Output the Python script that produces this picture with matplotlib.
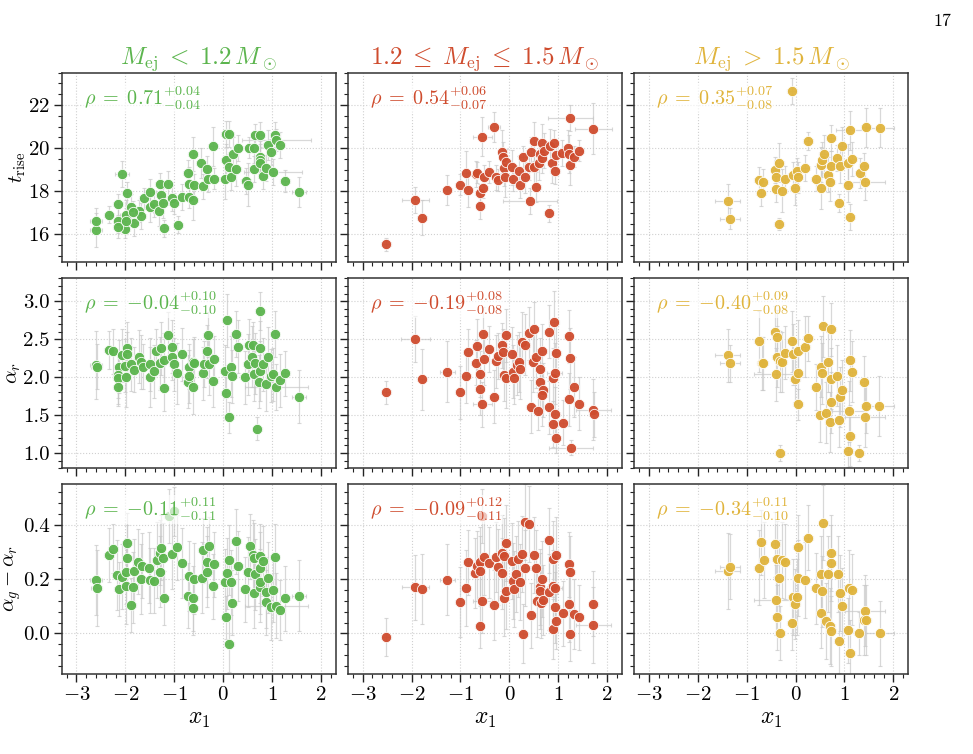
import numpy as np
import matplotlib
matplotlib.use("Agg")
import matplotlib.pyplot as plt
from matplotlib.ticker import MultipleLocator

plt.rcParams['font.family'] = 'serif'
plt.rcParams['font.serif'] = ['cmr10', 'DejaVu Serif']
plt.rcParams['mathtext.fontset'] = 'cm'
plt.rcParams['axes.formatter.use_mathtext'] = True

# colours of the three ejecta-mass bins
bin_colors = ['#5cb54e', '#cf4c2e', '#e0b43c']
bin_titles = [r'$M_{\rm ej}\;<\;1.2\,M_\odot$',
              r'$1.2\;\leq\;M_{\rm ej}\;\leq\;1.5\,M_\odot$',
              r'$M_{\rm ej}\;>\;1.5\,M_\odot$']
row_labels = [r'$t_{\rm rise}$', r'$\alpha_r$', r'$\alpha_g - \alpha_r$']

rho_text = [
    [r'$\rho\;=\;0.71^{+0.04}_{-0.04}$', r'$\rho\;=\;0.54^{+0.06}_{-0.07}$', r'$\rho\;=\;0.35^{+0.07}_{-0.08}$'],
    [r'$\rho\;=\;{-}0.04^{+0.10}_{-0.10}$', r'$\rho\;=\;{-}0.19^{+0.08}_{-0.08}$', r'$\rho\;=\;{-}0.40^{+0.09}_{-0.08}$'],
    [r'$\rho\;=\;{-}0.11^{+0.11}_{-0.11}$', r'$\rho\;=\;{-}0.09^{+0.12}_{-0.11}$', r'$\rho\;=\;{-}0.34^{+0.11}_{-0.10}$'],
]

# (x1, value, x1 error, value error)
trise_low = [
    (-2.60, 16.20, .12, .8), (-2.60, 16.63, .12, .6), (-2.33, 16.91, .10, .4), (-2.15, 16.64, .10, .6),
    (-2.15, 17.39, .10, .5), (-2.07, 18.80, .15, .6), (-1.96, 17.91, .10, .5), (-2.01, 16.25, .10, .4),
    (-1.98, 16.89, .12, .7), (-1.89, 17.27, .10, .6), (-1.83, 16.53, .10, .6), (-1.73, 17.09, .10, .5),
    (-1.67, 16.86, .10, .6), (-1.62, 17.67, .10, .5), (-1.50, 17.28, .10, .7), (-1.49, 17.95, .12, .6),
    (-1.42, 17.42, .10, .6), (-1.30, 18.33, .10, .5), (-1.28, 17.84, .10, .6), (-1.32, 17.08, .12, .7),
    (-1.23, 17.45, .10, .7), (-1.21, 16.28, .10, .4), (-1.13, 18.33, .10, .6), (-1.05, 17.70, .10, .6),
    (-1.00, 17.44, .10, .5), (-0.93, 16.44, .10, .4), (-0.85, 17.72, .10, .6), (-0.72, 18.84, .10, .6),
    (-0.70, 17.72, .10, .5), (-0.69, 18.33, .10, .8), (-0.61, 17.58, .10, .9), (-0.61, 19.73, .10, .8),
    (-0.59, 18.30, .10, .5), (-0.46, 19.30, .10, .7), (-0.41, 18.22, .10, .6), (-0.34, 19.03, .10, .6),
    (-0.31, 18.55, .10, .6), (-0.20, 20.08, .10, .9), (-0.19, 18.59, .10, .5), (0.05, 20.66, .10, .6),
    (0.12, 20.66, .10, .6), (0.04, 18.56, .10, .9), (0.05, 19.47, .10, .7), (0.12, 19.14, .10, .6),
    (0.15, 18.67, .10, .6), (0.20, 19.73, .10, .8), (0.27, 19.05, .10, .8), (0.31, 20.00, .10, .6),
    (0.46, 18.48, .10, .6), (0.51, 18.30, .10, 1.0), (0.52, 20.02, .15, .5), (0.63, 20.00, .10, .7),
    (0.66, 20.63, .10, .5), (0.76, 20.63, .10, .6), (0.63, 19.03, .10, .6), (0.75, 19.61, .10, .7),
    (0.75, 19.47, .10, .7), (0.76, 19.30, .10, .7), (0.81, 18.72, .10, .6), (0.88, 19.09, .10, .6),
    (0.92, 20.16, .10, .7), (0.98, 19.84, .10, .6), (1.02, 18.89, .60, .6), (1.05, 20.63, .10, .6),
    (1.09, 20.39, .70, .5), (1.16, 20.13, .10, .6), (1.27, 18.48, .10, .5), (1.55, 17.95, .15, .7),
    (-2.15, 16.35, .10, .5), (-1.99, 16.62, .10, .6), (-1.84, 17.05, .10, .5),
]
trise_mid = [
    (-2.52, 15.55, .10, .3), (-1.92, 17.58, .28, .6), (-1.79, 16.78, .10, .8), (-1.27, 18.05, .10, .7),
    (-1.01, 18.31, .10, .5), (-0.89, 18.86, .10, 1.0), (-0.85, 18.08, .10, .8), (-0.69, 18.80, .10, .6),
    (-0.67, 18.86, .10, .5), (-0.61, 17.94, .10, .4), (-0.59, 17.31, .10, .6), (-0.55, 20.53, .20, .9),
    (-0.53, 18.17, .10, .5), (-0.51, 18.64, .10, .6), (-0.42, 18.89, .10, .5), (-0.31, 20.98, .12, .7),
    (-0.28, 18.64, .10, .6), (-0.24, 18.52, .10, .5), (-0.14, 19.84, .10, 1.0), (-0.12, 19.58, .10, .7),
    (-0.10, 19.06, .10, .8), (-0.08, 18.64, .10, .9), (-0.06, 19.36, .10, .6), (0.05, 19.11, .10, .8),
    (0.08, 18.59, .10, .6), (0.20, 18.92, .10, .7), (0.22, 18.28, .10, .6), (0.28, 19.61, .10, .5),
    (0.31, 18.64, .10, .7), (0.40, 19.11, .10, .6), (0.42, 17.53, .55, .6), (0.44, 19.81, .10, .7),
    (0.50, 20.31, .10, .9), (0.50, 19.11, .10, .8), (0.54, 18.20, .10, .7), (0.61, 19.33, .10, .8),
    (0.63, 19.73, .10, .6), (0.66, 20.23, .10, .9), (0.67, 19.55, .10, .7), (0.70, 19.89, .10, .8),
    (0.81, 16.97, .10, .4), (0.83, 20.08, .10, .8), (0.88, 19.30, .10, .9), (0.92, 20.25, .10, .6),
    (0.93, 18.95, .10, .6), (0.95, 19.66, .10, .7), (1.08, 19.77, .10, .6), (1.20, 20.02, .10, .8),
    (1.23, 19.73, .10, .9), (1.25, 21.38, .46, .6), (1.25, 19.20, .10, .9), (1.32, 19.61, .10, .5),
    (1.42, 19.89, .10, .5), (1.72, 20.91, .37, 1.2),
]
trise_high = [
    (-1.39, 17.55, .25, .8), (-1.34, 16.73, .20, .5), (-0.74, 18.52, .10, .6), (-0.67, 18.44, .10, .6),
    (-0.70, 17.91, .10, .6), (-0.41, 18.98, .10, .6), (-0.39, 18.67, .10, .8), (-0.39, 18.11, .10, .6),
    (-0.33, 19.33, .10, .9), (-0.33, 16.48, .10, .3), (-0.27, 18.02, .10, 1.0), (-0.21, 18.55, .10, .6),
    (-0.07, 22.66, .10, .6), (-0.05, 18.77, .10, .6), (-0.01, 18.17, .10, .8), (0.04, 18.95, .10, .6),
    (0.05, 18.64, .10, .7), (0.19, 19.06, .10, .6), (0.25, 20.33, .10, .4), (0.41, 18.59, .10, .6),
    (0.52, 19.23, .10, .8), (0.55, 19.47, .10, .8), (0.53, 18.17, .10, 1.0), (0.58, 19.73, .10, .9),
    (0.67, 18.77, .10, .8), (0.70, 18.44, .10, .9), (0.73, 19.16, .10, .7), (0.73, 20.47, .10, .6),
    (0.85, 19.55, .10, .6), (0.88, 17.45, .10, .4), (0.91, 19.19, .10, .8), (0.96, 20.09, .10, .9),
    (1.08, 19.30, .10, .9), (1.08, 18.28, .10, .8), (1.12, 20.83, .30, .9), (1.12, 16.81, .10, .6),
    (1.15, 19.50, .10, .8), (1.31, 18.83, .10, .7), (1.39, 19.17, .10, .6), (1.42, 18.41, .40, .8),
    (1.44, 20.97, .10, .9), (1.72, 20.94, .30, .9),
]

alphar_low = [
    (-2.60, 2.16, .12, .45), (-2.59, 2.14, .12, .30), (-2.33, 2.36, .10, .25), (-2.25, 2.34, .10, .30),
    (-2.14, 2.14, .10, .35), (-2.15, 2.03, .10, .30), (-2.15, 1.99, .10, .35), (-2.15, 1.87, .10, .25),
    (-2.07, 2.29, .10, .35), (-2.00, 2.15, .10, .35), (-1.96, 2.38, .10, .35), (-1.96, 2.30, .10, .30),
    (-1.98, 2.00, .10, .40), (-1.89, 2.17, .10, .35), (-1.83, 2.10, .10, .30), (-1.73, 2.27, .10, .35),
    (-1.67, 2.20, .10, .35), (-1.64, 2.14, .10, .30), (-1.50, 2.17, .10, .35), (-1.49, 2.00, .10, .40),
    (-1.42, 2.08, .10, .35), (-1.38, 2.34, .10, .30), (-1.28, 2.38, .10, .35), (-1.30, 2.18, .10, .35),
    (-1.21, 2.23, .10, .35), (-1.21, 1.86, .10, .30), (-1.13, 2.56, .10, .30), (-1.05, 2.40, .10, .35),
    (-1.05, 2.26, .10, .30), (-1.00, 2.17, .10, .35), (-0.94, 2.05, .10, .40), (-0.85, 2.30, .10, .35),
    (-0.72, 1.94, .10, .35), (-0.70, 2.14, .10, .30), (-0.70, 2.01, .10, .35), (-0.61, 1.87, .10, .35),
    (-0.61, 2.20, .10, .30), (-0.59, 2.18, .10, .35), (-0.41, 2.05, .10, .35), (-0.40, 2.17, .10, .30),
    (-0.34, 2.34, .10, .35), (-0.31, 2.56, .10, .30), (-0.29, 2.17, .10, .40), (-0.20, 1.95, .10, .35),
    (-0.19, 2.24, .10, .30), (0.04, 2.08, .10, .35), (0.05, 1.79, .10, .35), (0.07, 2.75, .10, .35),
    (0.12, 1.47, .10, .20), (0.15, 2.14, .10, .40), (0.18, 2.01, .10, .35), (0.27, 2.57, .10, .30),
    (0.31, 2.40, .10, .35), (0.45, 2.00, .10, .35), (0.51, 2.17, .10, .40), (0.52, 2.42, .10, .35),
    (0.61, 2.43, .10, .30), (0.59, 2.27, .10, .40), (0.63, 2.04, .10, .35), (0.66, 2.18, .10, .40),
    (0.70, 1.32, .10, .15), (0.76, 2.87, .10, .25), (0.75, 2.39, .10, .35), (0.75, 2.08, .10, .40),
    (0.74, 1.94, .10, .35), (0.81, 2.17, .10, .35), (0.88, 1.91, .10, .35), (0.92, 2.26, .10, .40),
    (0.98, 2.02, .10, .35), (1.02, 2.04, .10, .35), (1.05, 2.57, .10, .30), (1.09, 1.87, .65, .30),
    (1.16, 1.96, .10, .35), (1.27, 2.05, .10, .30), (1.55, 1.74, .15, .35),
]
alphar_mid = [
    (-2.52, 1.80, .10, .15), (-1.92, 2.50, .30, .30), (-1.79, 1.97, .10, .40), (-1.27, 2.07, .15, .40),
    (-1.01, 1.80, .10, .35), (-0.89, 2.01, .10, .35), (-0.85, 2.33, .10, .30), (-0.69, 2.19, .10, .30),
    (-0.67, 2.41, .10, .35), (-0.61, 1.85, .10, .35), (-0.59, 2.04, .10, .30), (-0.55, 1.64, .20, .30),
    (-0.53, 2.57, .10, .35), (-0.52, 2.24, .10, .35), (-0.42, 2.37, .10, .30), (-0.31, 1.74, .10, .35),
    (-0.28, 2.21, .10, .35), (-0.24, 2.28, .10, .30), (-0.14, 2.42, .10, .30), (-0.12, 2.33, .10, .30),
    (-0.11, 2.03, .10, .35), (-0.07, 2.55, .10, .35), (-0.06, 1.99, .10, .40), (0.05, 2.31, .10, .35),
    (0.08, 2.07, .10, .35), (0.10, 1.99, .10, .35), (0.15, 2.16, .10, .40), (0.20, 2.20, .10, .40),
    (0.22, 2.11, .10, .40), (0.26, 2.46, .10, .40), (0.33, 2.43, .10, .40), (0.40, 2.58, .10, .35),
    (0.44, 1.61, .10, .35), (0.49, 2.20, .10, .40), (0.50, 2.64, .10, .35), (0.54, 2.26, .10, .40),
    (0.59, 1.55, .10, .25), (0.63, 2.11, .10, .40), (0.63, 1.93, .10, .40), (0.67, 2.35, .10, .35),
    (0.69, 1.83, .10, .35), (0.66, 1.76, .10, .40), (0.81, 2.60, .10, .35), (0.82, 1.60, .10, .35),
    (0.89, 1.38, .10, .30), (0.90, 1.99, .10, .40), (0.93, 2.05, .15, .40), (0.94, 1.52, .10, .35),
    (0.95, 1.20, .10, .20), (0.92, 2.73, .10, .40), (0.95, 2.32, .10, .35), (1.09, 1.40, .10, .30),
    (1.21, 2.54, .10, .35), (1.22, 1.71, .10, .35), (1.25, 2.25, .10, .40), (1.27, 1.07, .45, .10),
    (1.32, 1.87, .10, .40), (1.42, 1.65, .10, .35), (1.72, 1.57, .35, .40), (1.73, 1.51, .10, .30),
]
alphar_high = [
    (-1.39, 2.29, .25, .35), (-1.34, 2.18, .20, .25), (-0.74, 2.47, .10, .40), (-0.69, 2.18, .10, .35),
    (-0.67, 2.18, .10, .35), (-0.41, 2.59, .10, .35), (-0.38, 2.53, .10, .35), (-0.38, 2.27, .10, .40),
    (-0.39, 2.04, .45, .35), (-0.31, 2.21, .10, .40), (-0.27, 2.20, .10, .40), (-0.22, 2.32, .10, .35),
    (-0.07, 2.47, .10, .40), (-0.05, 2.30, .10, .40), (-0.01, 1.97, .10, .30), (0.05, 2.35, .10, .40),
    (0.05, 2.05, .10, .35), (0.05, 1.64, .10, .20), (0.20, 2.40, .10, .40), (0.25, 2.51, .10, .30),
    (0.41, 1.87, .10, .30), (0.51, 1.50, .10, .35), (0.52, 2.14, .10, .40), (0.55, 2.05, .10, .40),
    (0.57, 2.67, .10, .40), (0.63, 1.53, .10, .40), (0.67, 2.20, .10, .40), (0.70, 1.41, .10, .40),
    (0.72, 1.98, .10, .40), (0.73, 1.67, .10, .40), (0.73, 2.63, .10, .35), (0.85, 2.02, .10, .40),
    (0.88, 1.43, .10, .35), (0.90, 1.74, .10, .40), (0.96, 1.83, .10, .40), (1.09, 1.55, .35, .40),
    (1.08, 1.02, .10, .20), (1.11, 2.22, .10, .40), (1.12, 1.23, .10, .40), (1.15, 2.07, .10, .40),
    (1.30, 1.00, .10, .10), (1.39, 1.93, .10, .35), (1.42, 1.48, .40, .40), (1.44, 1.62, .10, .35),
    (-0.32, 1.00, .10, .10), (1.71, 1.62, .30, .40),
]

color_low = [
    (-2.60, 0.196, .12, .13), (-2.59, 0.166, .12, .14), (-2.33, 0.290, .10, .10), (-2.25, 0.312, .10, .09),
    (-2.17, 0.215, .10, .13), (-2.14, 0.163, .10, .10), (-2.07, 0.209, .10, .12), (-1.96, 0.334, .10, .11),
    (-1.96, 0.279, .10, .12), (-1.99, 0.176, .10, .14), (-1.98, 0.228, .10, .12), (-1.89, 0.106, .10, .10),
    (-1.85, 0.170, .10, .13), (-1.83, 0.230, .10, .12), (-1.74, 0.265, .10, .12), (-1.69, 0.200, .10, .13),
    (-1.66, 0.249, .10, .12), (-1.51, 0.243, .10, .13), (-1.49, 0.196, .10, .12), (-1.41, 0.194, .10, .12),
    (-1.35, 0.270, .10, .14), (-1.30, 0.298, .10, .12), (-1.28, 0.316, .10, .12), (-1.30, 0.228, .10, .13),
    (-1.23, 0.277, .10, .13), (-1.21, 0.129, .10, .10), (-1.04, 0.294, .10, .13), (-0.94, 0.318, .10, .12),
    (-0.85, 0.259, .10, .13), (-0.72, 0.139, .10, .12), (-0.70, 0.212, .10, .13), (-0.61, 0.129, .10, .12),
    (-0.61, 0.094, .10, .10), (-0.59, 0.202, .10, .13), (-0.43, 0.206, .10, .13), (-0.41, 0.307, .10, .12),
    (-0.34, 0.263, .10, .13), (-0.33, 0.228, .10, .13), (-0.29, 0.321, .10, .11), (-0.19, 0.255, .10, .12),
    (-0.20, 0.173, .10, .12), (0.04, 0.191, .10, .12), (0.05, 0.059, .10, .08), (0.07, 0.221, .10, .13),
    (0.12, 0.270, .10, .13), (0.12, -0.041, .10, .10), (0.15, 0.188, .10, .12), (0.18, 0.113, .10, .12),
    (0.27, 0.340, .10, .12), (0.31, 0.249, .10, .13), (0.45, 0.162, .10, .12), (0.51, 0.226, .10, .13),
    (0.54, 0.322, .10, .12), (0.61, 0.289, .10, .13), (0.63, 0.277, .10, .13), (0.64, 0.148, .10, .13),
    (0.66, 0.218, .10, .13), (0.75, 0.285, .10, .12), (0.76, 0.243, .10, .13), (0.75, 0.172, .10, .13),
    (0.76, 0.191, .10, .12), (0.81, 0.267, .10, .13), (0.87, 0.115, .10, .12), (0.88, 0.151, .10, .13),
    (0.92, 0.206, .10, .13), (0.97, 0.096, .10, .12), (1.02, 0.161, .10, .12), (1.05, 0.282, .10, .12),
    (1.09, 0.102, .65, .12), (1.16, 0.087, .10, .11), (1.27, 0.130, .10, .12), (1.55, 0.139, .15, .13),
    (-1.11, 0.432, .10, .10), (-1.01, 0.450, .10, .09),
]
color_mid = [
    (-2.52, -0.013, .10, .07), (-1.92, 0.170, .28, .12), (-1.79, 0.163, .10, .13), (-1.27, 0.198, .15, .13),
    (-1.01, 0.115, .10, .13), (-0.89, 0.167, .10, .14), (-0.85, 0.263, .10, .12), (-0.70, 0.223, .10, .13),
    (-0.67, 0.249, .10, .13), (-0.60, 0.263, .10, .13), (-0.59, 0.230, .10, .13), (-0.61, 0.027, .10, .08),
    (-0.55, 0.121, .20, .12), (-0.52, 0.283, .10, .14), (-0.42, 0.261, .10, .13), (-0.31, 0.105, .10, .13),
    (-0.28, 0.282, .10, .13), (-0.24, 0.246, .10, .14), (-0.14, 0.221, .10, .13), (-0.14, 0.298, .10, .14),
    (-0.10, 0.284, .10, .14), (-0.07, 0.333, .10, .14), (-0.11, 0.129, .10, .14), (-0.06, 0.157, .10, .14),
    (0.05, 0.267, .10, .14), (0.07, 0.194, .10, .14), (0.10, 0.163, .10, .14), (0.13, 0.218, .10, .14),
    (0.18, 0.273, .10, .14), (0.22, 0.191, .10, .14), (0.26, 0.294, .10, .14), (0.28, -0.001, .10, .11),
    (0.32, 0.240, .10, .14), (0.33, 0.410, .10, .14), (0.41, 0.405, .10, .14), (0.44, 0.067, .10, .12),
    (0.50, 0.290, .10, .14), (0.54, 0.243, .10, .14), (0.56, 0.118, .10, .13), (0.63, 0.172, .10, .14),
    (0.63, 0.157, .10, .14), (0.66, 0.200, .10, .14), (0.65, 0.112, .10, .13), (0.69, 0.123, .10, .13),
    (0.81, 0.344, .10, .12), (0.81, 0.154, .10, .14), (0.89, 0.017, .10, .11), (0.90, 0.176, .10, .13),
    (0.93, 0.167, .15, .14), (0.94, 0.096, .10, .13), (0.95, 0.044, .10, .10), (0.90, 0.273, .10, .14),
    (0.95, 0.289, .10, .14), (1.09, 0.074, .10, .12), (1.21, 0.255, .10, .12), (1.23, 0.109, .10, .14),
    (1.25, -0.001, .10, .10), (1.25, 0.228, .10, .13), (1.32, 0.072, .10, .13), (1.42, 0.060, .10, .12),
    (1.72, 0.109, .10, .12), (1.72, 0.030, .35, .14), (-0.55, 0.432, .10, .10),
]
color_high = [
    (-1.39, 0.230, .25, .14), (-1.34, 0.246, .20, .12), (-0.74, 0.243, .10, .14), (-0.70, 0.337, .10, .12),
    (-0.65, 0.270, .10, .14), (-0.41, 0.328, .10, .12), (-0.38, 0.276, .10, .14), (-0.40, 0.123, .45, .13),
    (-0.38, 0.060, .10, .12), (-0.33, 0.204, .10, .14), (-0.31, 0.000, .10, .10), (-0.27, 0.270, .10, .14),
    (-0.21, 0.265, .10, .14), (-0.08, 0.039, .10, .10), (-0.06, 0.135, .10, .14), (-0.01, 0.109, .10, .13),
    (0.04, 0.133, .10, .14), (0.05, 0.318, .10, .12), (0.05, 0.204, .10, .14), (0.20, 0.198, .10, .14),
    (0.25, 0.352, .10, .12), (0.41, 0.166, .10, .13), (0.52, 0.076, .10, .13), (0.52, 0.218, .10, .14),
    (0.54, 0.155, .10, .13), (0.57, 0.409, .10, .14), (0.63, 0.045, .10, .14), (0.67, 0.218, .10, .14),
    (0.70, 0.026, .10, .14), (0.72, 0.009, .10, .13), (0.72, 0.261, .10, .14), (0.73, 0.296, .10, .14),
    (0.86, 0.218, .10, .14), (0.88, -0.028, .10, .12), (0.91, 0.148, .10, .14), (0.96, 0.102, .10, .14),
    (1.08, 0.011, .10, .12), (1.10, 0.167, .10, .14), (1.12, -0.072, .10, .12), (1.15, 0.161, .10, .13),
    (1.30, 0.000, .10, .08), (1.39, 0.050, .10, .13), (1.42, 0.084, .40, .13), (1.44, 0.050, .10, .13),
    (1.72, 0.000, .30, .12),
]

panels = [[trise_low, trise_mid, trise_high],
          [alphar_low, alphar_mid, alphar_high],
          [color_low, color_mid, color_high]]
row_ylim = [(14.7, 23.5), (0.8, 3.3), (-0.15, 0.55)]
row_major = [2, 0.5, 0.2]
row_minor = [0.5, 0.1, 0.04]

fig, axes = plt.subplots(3, 3, figsize=(9.73, 7.54), dpi=100, sharex=True, sharey='row')
fig.subplots_adjust(left=0.0635, right=0.9332, top=0.9036, bottom=0.1061,
                    wspace=0.045, hspace=0.085)

for i in range(3):
    for j in range(3):
        ax = axes[i, j]
        d = np.array(panels[i][j])
        ax.errorbar(d[:, 0], d[:, 1], xerr=d[:, 2], yerr=d[:, 3], fmt='none',
                    ecolor='#c8c8c8', elinewidth=0.9, capsize=1.6, capthick=0.8,
                    alpha=0.7, zorder=2)
        ax.scatter(d[:, 0], d[:, 1], s=55, color=bin_colors[j], edgecolors='white',
                   linewidths=0.6, alpha=0.95, zorder=3)
        ax.text(0.08, 0.94, rho_text[i][j], transform=ax.transAxes, ha='left', va='top',
                fontsize=14.5, color=bin_colors[j], zorder=5,
                bbox=dict(facecolor='white', edgecolor='none', alpha=0.65, pad=0.5))
        ax.set_xlim(-3.3, 2.3)
        ax.set_ylim(*row_ylim[i])
        ax.xaxis.set_major_locator(MultipleLocator(1))
        ax.xaxis.set_minor_locator(MultipleLocator(0.2))
        ax.yaxis.set_major_locator(MultipleLocator(row_major[i]))
        ax.yaxis.set_minor_locator(MultipleLocator(row_minor[i]))
        ax.grid(True, which='major', linestyle=':', color='#d0d0d0', linewidth=0.8, zorder=0)
        ax.set_axisbelow(True)
        ax.tick_params(which='major', direction='out', length=5.5, width=1, labelsize=15,
                       color='#222222', pad=3)
        ax.tick_params(which='minor', direction='out', length=2.8, width=0.8, color='#222222')
        for sp in ax.spines.values():
            sp.set_color('#333333')
            sp.set_linewidth(1.1)
        if i == 0:
            ax.set_title(bin_titles[j], fontsize=18, color=bin_colors[j], pad=3)
        if j == 0:
            ax.set_ylabel(row_labels[i], fontsize=15, labelpad=0)
        if i == 2:
            ax.set_xlabel(r'$x_1$', fontsize=17, labelpad=3)

axes[0, 0].set_yticks([16, 18, 20, 22])
axes[1, 0].set_yticks([1.0, 1.5, 2.0, 2.5, 3.0])
axes[1, 0].yaxis.set_major_formatter(plt.FormatStrFormatter('%.1f'))
axes[2, 0].set_yticks([0.0, 0.2, 0.4])
axes[2, 0].yaxis.set_major_formatter(plt.FormatStrFormatter('%.1f'))
for i in range(3):
    axes[i, 0].set_ylim(*row_ylim[i])

fig.text(0.978, 0.982, '17', ha='right', va='top', fontsize=13)

fig.savefig('out.png', dpi=100)
